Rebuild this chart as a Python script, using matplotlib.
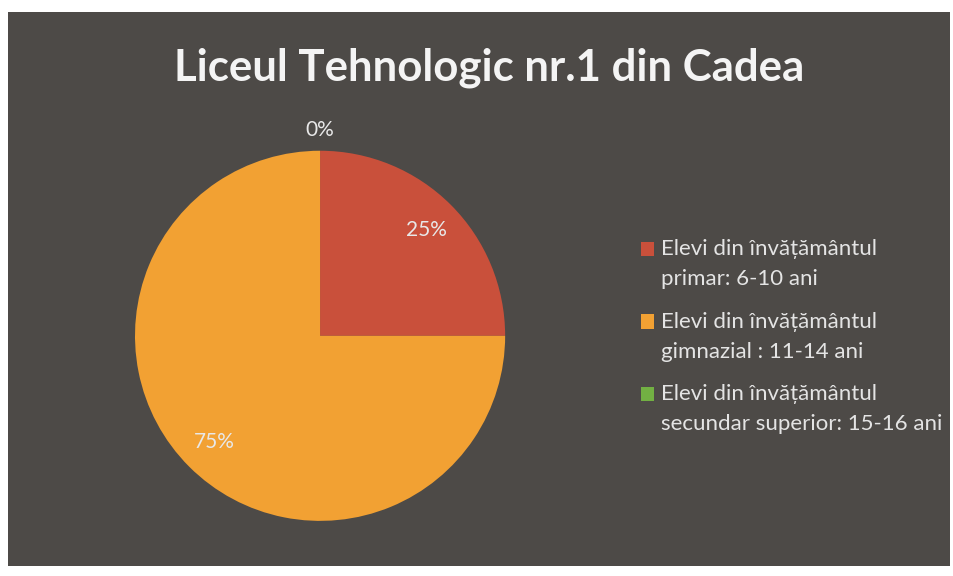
import matplotlib.pyplot as plt
from matplotlib.patches import Rectangle
from matplotlib.legend_handler import HandlerPatch

plt.rcParams['font.family'] = ['Lato', 'DejaVu Sans']

title = 'Liceul Tehnologic nr.1 din Cadea'
categories = ['Elevi din învățământul\nprimar: 6-10 ani',
              'Elevi din învățământul\ngimnazial : 11-14 ani',
              'Elevi din învățământul\nsecundar superior: 15-16 ani']
values = [25, 75, 0]
colors = ['#c9503b', '#f2a133', '#72b043']

fig = plt.figure(figsize=(9.54, 5.76), dpi=100)
fig.patch.set_facecolor('white')

# dark chart area inside white scan margin
fig.patches.append(Rectangle((0.008, 0.018), 0.988, 0.961, transform=fig.transFigure,
                             facecolor='#4d4a47', edgecolor='none', zorder=-5))

fig.text(0.513, 0.883, title, ha='center', va='center', fontsize=31.5,
         fontweight='bold', color='#f4f4f4')

ax = fig.add_axes([0.1415, 0.0955, 0.388, 0.643])
ax.set_facecolor('none')
wedges, texts, autotexts = ax.pie(values, colors=colors, startangle=90, counterclock=False,
                                  autopct='%1.0f%%', pctdistance=0.81,
                                  textprops=dict(color='#e8e8e8', fontsize=15))
for w, t, v in zip(wedges, autotexts, values):
    if v == 0:
        t.set_position((0, 1.11))
ax.set_xlim(-1, 1)
ax.set_ylim(-1, 1)
ax.set_aspect('equal')


# legend square sits next to the first text line, not the middle
def top_square(legend, orig_handle, xdescent, ydescent, width, height, fontsize):
    return Rectangle((-xdescent, -ydescent + 11), width, height)


leg = fig.legend(wedges, categories, loc='upper left', bbox_to_anchor=(0.651, 0.619),
                 frameon=False, fontsize=16, labelcolor='#e4e4e4',
                 handlelength=0.6, handleheight=0.6, handletextpad=0.3,
                 labelspacing=1.0,
                 handler_map={w: HandlerPatch(patch_func=top_square) for w in wedges})
for t in leg.get_texts():
    t.set_linespacing(1.62)

fig.savefig('out.png', dpi=100, facecolor=fig.get_facecolor())
